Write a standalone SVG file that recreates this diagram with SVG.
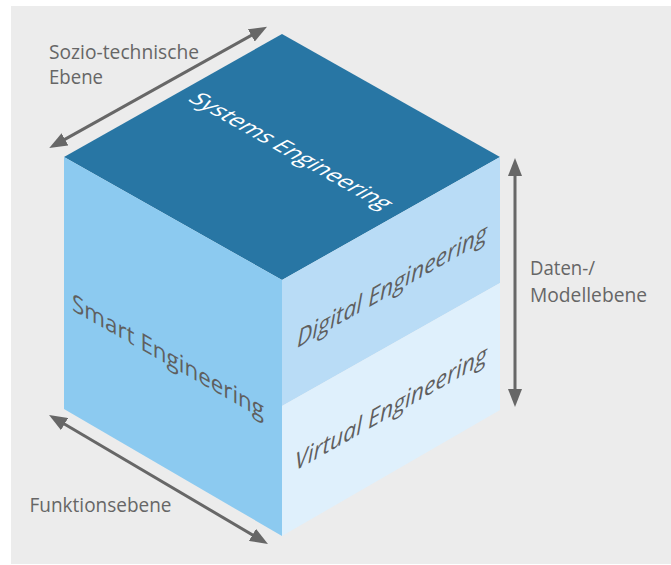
<svg xmlns="http://www.w3.org/2000/svg" width="671" height="565" viewBox="0 0 671 565">
<style>
  .lbl { font-family: "Open Sans", "Noto Sans", "DejaVu Sans", sans-serif; font-size: 20.5px; fill: #666666; }
  .face { font-family: "Open Sans", "Noto Sans", "DejaVu Sans", sans-serif; font-size: 24px; fill: #5f5f5f; }
  .ital { font-style: italic; }
  .arrow { stroke: #676767; stroke-width: 3; fill: none; marker-start: url(#ah); marker-end: url(#ah); }
</style>
<defs>
  <marker id="ah" viewBox="0 0 18 14" refX="12" refY="7" markerWidth="18" markerHeight="14" markerUnits="userSpaceOnUse" orient="auto-start-reverse">
    <path d="M0,0 L18,7 L0,14 z" fill="#676767"/>
  </marker>
</defs>
<rect x="11" y="6" width="660" height="558" fill="#ececec"/>

<g id="top-face">
  <polygon points="64,157 282,34 500,157 282,280" fill="#2876a4"/>
  <text class="face" style="fill:#ffffff" font-size="24" textLength="224" lengthAdjust="spacingAndGlyphs" transform="matrix(0.871,0.491,-0.871,0.491,187,100)">Systems Engineering</text>
</g>
<g id="left-face">
  <polygon points="64,157 282,280 282,536 64,409" fill="#8ccaf0"/>
  <text class="face" textLength="192" lengthAdjust="spacingAndGlyphs" transform="matrix(1,0.57,0,1,72,310)">Smart Engineering</text>
</g>
<g id="right-upper-face">
  <polygon points="282,280 500,157 500,283 282,406" fill="#b9dcf6"/>
  <text class="face ital" textLength="190" lengthAdjust="spacingAndGlyphs" transform="matrix(1,-0.57,0,1,297,348)">Digital Engineering</text>
</g>
<g id="right-lower-face">
  <polygon points="282,406 500,283 500,410 282,536" fill="#dff0fc"/>
  <text class="face ital" textLength="192" lengthAdjust="spacingAndGlyphs" transform="matrix(1,-0.57,0,1,295,471)">Virtual Engineering</text>
</g>

<g id="label-sozio">
  <text class="lbl" x="49" y="58.5" textLength="150" lengthAdjust="spacingAndGlyphs">Sozio-technische</text>
  <text class="lbl" x="49" y="84" textLength="54" lengthAdjust="spacingAndGlyphs">Ebene</text>
</g>
<g id="label-daten">
  <text class="lbl" x="530" y="275" textLength="65" lengthAdjust="spacingAndGlyphs">Daten-/</text>
  <text class="lbl" x="530" y="301.5" textLength="117" lengthAdjust="spacingAndGlyphs">Modellebene</text>
</g>
<g id="label-funktion">
  <text class="lbl" x="29.5" y="511.5" textLength="142" lengthAdjust="spacingAndGlyphs">Funktionsebene</text>
</g>

<g id="connectors">
  <line class="arrow" x1="54.5" y1="145.1" x2="261.8" y2="29.6"/>
  <line class="arrow" x1="515" y1="164" x2="515" y2="401"/>
  <line class="arrow" x1="54.2" y1="418" x2="262.8" y2="541"/>
</g>
</svg>
